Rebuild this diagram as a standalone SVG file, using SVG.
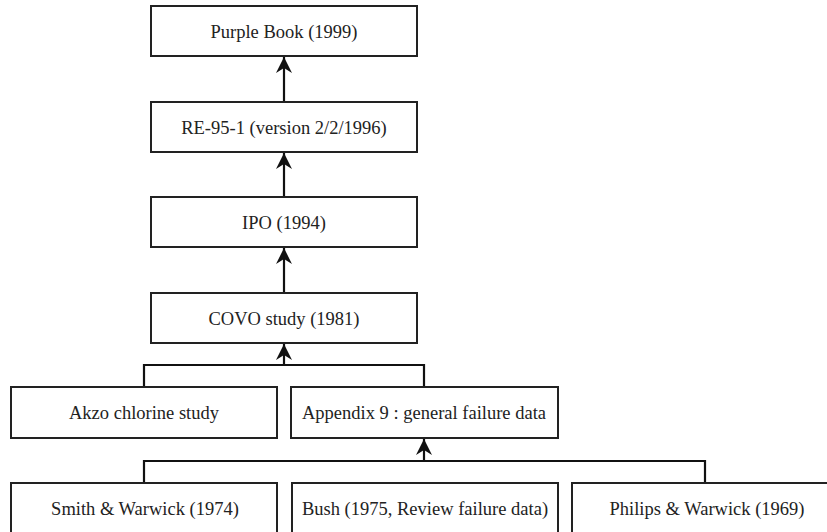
<svg xmlns="http://www.w3.org/2000/svg" width="827" height="532" viewBox="0 0 827 532">
  <style>
    .box { fill: #ffffff; stroke: #222222; stroke-width: 2; }
    .lbl { font-family: "Liberation Serif", "Times New Roman", serif; font-size: 18.5px; fill: #222222; text-anchor: middle; }
    .con { fill: none; stroke: #111111; stroke-width: 2.2; }
  </style>
  <defs>
    <marker id="arr" viewBox="0 -8 16 16" refX="16" refY="0" markerWidth="16" markerHeight="16" markerUnits="userSpaceOnUse" orient="auto">
      <path d="M0,-8 L16,0 L0,8 L5,0 Z" fill="#111111"/>
    </marker>
  </defs>
  <rect width="827" height="532" fill="#ffffff"/>

  <g id="connectors">
    <path class="con" d="M284,102 V57" marker-end="url(#arr)"/>
    <path class="con" d="M284,197 V153" marker-end="url(#arr)"/>
    <path class="con" d="M284,293 V248" marker-end="url(#arr)"/>
    <path class="con" d="M144,387 V365 H424 V387"/>
    <path class="con" d="M284,365 V344" marker-end="url(#arr)"/>
    <path class="con" d="M144,483 V461 H705 V483"/>
    <path class="con" d="M424,461 V439" marker-end="url(#arr)"/>
  </g>

  <g id="purple-book">
    <rect class="box" x="151" y="6" width="266" height="50"/>
    <text class="lbl" x="284" y="38">Purple Book (1999)</text>
  </g>
  <g id="re-95-1">
    <rect class="box" x="151" y="102" width="266" height="50"/>
    <text class="lbl" x="284" y="134">RE-95-1 (version 2/2/1996)</text>
  </g>
  <g id="ipo">
    <rect class="box" x="151" y="197" width="266" height="50"/>
    <text class="lbl" x="284" y="229">IPO (1994)</text>
  </g>
  <g id="covo">
    <rect class="box" x="151" y="293" width="266" height="50"/>
    <text class="lbl" x="284" y="325">COVO study (1981)</text>
  </g>
  <g id="akzo">
    <rect class="box" x="11" y="387" width="266" height="51"/>
    <text class="lbl" x="144" y="419">Akzo chlorine study</text>
  </g>
  <g id="appendix9">
    <rect class="box" x="291" y="387" width="267" height="51"/>
    <text class="lbl" x="424" y="419">Appendix 9 : general failure data</text>
  </g>
  <g id="smith">
    <rect class="box" x="11" y="483" width="266" height="60"/>
    <text class="lbl" x="145" y="515">Smith &amp; Warwick (1974)</text>
  </g>
  <g id="bush">
    <rect class="box" x="292" y="483" width="266" height="60"/>
    <text class="lbl" x="425" y="515">Bush (1975, Review failure data)</text>
  </g>
  <g id="philips">
    <rect class="box" x="572" y="483" width="266" height="60"/>
    <text class="lbl" x="707" y="515">Philips &amp; Warwick (1969)</text>
  </g>
</svg>
